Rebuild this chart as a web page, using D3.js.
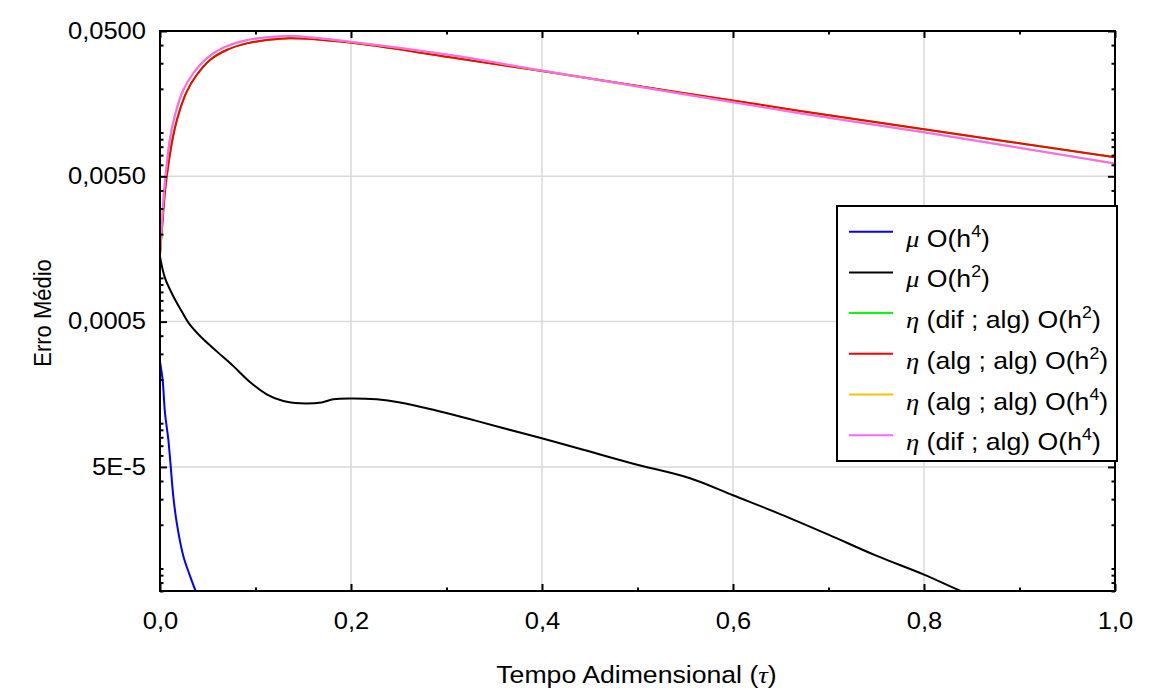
<!DOCTYPE html>
<html>
<head>
<meta charset="utf-8">
<script src="https://cdn.jsdelivr.net/npm/d3@7"></script>
<style>
  body { margin: 0; background: #fff; }
  svg { display: block; font-family: "Liberation Sans", Arial, sans-serif; }
</style>
</head>
<body>
<svg id="chart" width="1156" height="688"></svg>
<script>
// tau values and mean error
const tauBlue = [0, 0.0028, 0.0052, 0.0087, 0.0112, 0.0139, 0.0175, 0.0244, 0.0314, 0.0366, 0.040];
const muH4 = [2.65e-4, 1.97e-4, 1.18e-4, 7.73e-5, 5.06e-5, 3.15e-5, 2.07e-5, 1.22e-5, 8.9e-6, 7.2e-6, 6.5e-6];

const tauBlack = [0, 0.0052, 0.0139, 0.0227, 0.0307, 0.0419, 0.0594, 0.0768, 0.0942, 0.1117, 0.1291, 0.1466,
  0.1693, 0.1815, 0.199, 0.2269, 0.2513, 0.2862, 0.3211, 0.356, 0.3997, 0.4432, 0.4956, 0.555, 0.60,
  0.65, 0.70, 0.75, 0.80, 0.84, 0.86];
const muH2 = [1.40e-3, 9.99e-4, 7.47e-4, 5.89e-4, 4.82e-4, 3.98e-4, 3.12e-4, 2.47e-4, 1.92e-4, 1.58e-4, 1.42e-4, 1.37e-4,
  1.39e-4, 1.46e-4, 1.48e-4, 1.46e-4, 1.39e-4, 1.237e-4, 1.081e-4, 9.37e-5, 7.88e-5, 6.56e-5, 5.26e-5, 4.18e-5, 3.19e-5,
  2.36e-5, 1.71e-5, 1.225e-5, 9.07e-6, 6.93e-6, 6.2e-6];

const tauRed = [0, 0.0024, 0.0052, 0.0087, 0.0133, 0.0192, 0.028, 0.0384, 0.0524, 0.0698, 0.0908, 0.1117,
  0.136, 0.199, 0.3037, 0.4, 0.6702, 0.8, 1.0];
const etaDifAlgH2 = [1.45e-3, 2.32e-3, 3.93e-3, 5.99e-3, 9.14e-3, 1.322e-2, 1.912e-2, 2.49e-2, 3.16e-2, 3.70e-2, 4.11e-2, 4.33e-2,
  4.46e-2, 4.16e-2, 3.30e-2, 2.65e-2, 1.409e-2, 1.054e-2, 6.75e-3];
const etaAlgAlgH2 = [1.45e-3, 2.32e-3, 3.93e-3, 5.99e-3, 9.14e-3, 1.322e-2, 1.912e-2, 2.49e-2, 3.16e-2, 3.70e-2, 4.11e-2, 4.33e-2,
  4.46e-2, 4.16e-2, 3.30e-2, 2.65e-2, 1.409e-2, 1.054e-2, 6.75e-3];

const tauPink = [0, 0.0018, 0.0042, 0.007, 0.0105, 0.0157, 0.0244, 0.0349, 0.0489, 0.0663, 0.0872, 0.1082,
  0.136, 0.199, 0.3037, 0.4, 0.6702, 0.8, 1.0];
const etaAlgAlgH4 = [1.50e-3, 2.32e-3, 3.93e-3, 5.99e-3, 9.14e-3, 1.322e-2, 1.964e-2, 2.559e-2, 3.245e-2, 3.838e-2, 4.27e-2, 4.50e-2,
  4.62e-2, 4.22e-2, 3.42e-2, 2.67e-2, 1.358e-2, 1.005e-2, 6.13e-3];
const etaDifAlgH4 = [1.50e-3, 2.32e-3, 3.93e-3, 5.99e-3, 9.14e-3, 1.322e-2, 1.964e-2, 2.559e-2, 3.245e-2, 3.838e-2, 4.27e-2, 4.50e-2,
  4.62e-2, 4.22e-2, 3.42e-2, 2.67e-2, 1.358e-2, 1.005e-2, 6.13e-3];

const xTickValues = [0, 0.2, 0.4, 0.6, 0.8, 1.0];
const xTickLabels = ["0,0", "0,2", "0,4", "0,6", "0,8", "1,0"];
const xMinorTicks = [0.1, 0.3, 0.5, 0.7, 0.9];
const yTickValues = [5e-5, 5e-4, 5e-3, 5e-2];
const yTickLabels = ["5E-5", "0,0005", "0,0050", "0,0500"];

const series = [
  { sym: "\u03bc", name: " O(h", sup: "4", tail: ")", tau: tauBlue, val: muH4, color: "#0000ff" },
  { sym: "\u03bc", name: " O(h", sup: "2", tail: ")", tau: tauBlack, val: muH2, color: "#000000" },
  { sym: "\u03b7", name: " (dif ; alg) O(h", sup: "2", tail: ")", tau: tauRed, val: etaDifAlgH2, color: "#00ff00" },
  { sym: "\u03b7", name: " (alg ; alg) O(h", sup: "2", tail: ")", tau: tauRed, val: etaAlgAlgH2, color: "#ff0000" },
  { sym: "\u03b7", name: " (alg ; alg) O(h", sup: "4", tail: ")", tau: tauPink, val: etaAlgAlgH4, color: "#ffbf00" },
  { sym: "\u03b7", name: " (dif ; alg) O(h", sup: "4", tail: ")", tau: tauPink, val: etaDifAlgH4, color: "#ff66ff" }
];

const margin = { top: 31, right: 41, bottom: 97, left: 160 };
const width = 1156, height = 688;
const sx = 1.11; // text in the picture is a little wider than plain Arial
const fontSize = 23;
const svg = d3.select("#chart");

const x = d3.scaleLinear().domain([0, 1]).range([margin.left, width - margin.right]);
const y = d3.scaleLog().domain([7e-6, 0.05]).range([height - margin.bottom, margin.top]);

// minor log ticks 1..9 x 10^n
const yMinorTicks = [];
for (let e = -6; e <= -2; e++) {
  for (let k = 1; k <= 9; k++) {
    const v = k * Math.pow(10, e);
    if (k !== 5 && v >= 7e-6 && v <= 0.05) yMinorTicks.push(v);
  }
}

// grid
svg.append("g")
  .attr("stroke", "#d9d9d9")
  .attr("stroke-width", 1.5)
  .call((g) => g.selectAll("line.v").data(xTickValues.slice(1, -1)).join("line")
    .attr("class", "v")
    .attr("x1", (d) => x(d)).attr("x2", (d) => x(d))
    .attr("y1", y.range()[1]).attr("y2", y.range()[0]))
  .call((g) => g.selectAll("line.h").data(yTickValues.slice(0, -1)).join("line")
    .attr("class", "h")
    .attr("x1", x.range()[0]).attr("x2", x.range()[1])
    .attr("y1", (d) => y(d)).attr("y2", (d) => y(d)));

// curves
svg.append("clipPath").attr("id", "plot")
  .append("rect")
  .attr("x", x.range()[0]).attr("y", y.range()[1])
  .attr("width", x.range()[1] - x.range()[0])
  .attr("height", y.range()[0] - y.range()[1]);

const line = d3.line()
  .curve(d3.curveCatmullRom.alpha(0.5))
  .x((d) => x(d[0]))
  .y((d) => y(d[1]));

svg.append("g")
  .attr("clip-path", "url(#plot)")
  .selectAll("path")
  .data(series)
  .join("path")
  .attr("fill", "none")
  .attr("stroke", (d) => d.color)
  .attr("stroke-width", 2)
  .attr("stroke-linejoin", "round")
  .attr("d", (d) => line(d.tau.map((t, i) => [t, d.val[i]])));

// axes, ticks pointing inward
const styleAxis = (g) => {
  g.select(".domain").remove();
  g.selectAll(".tick line").attr("stroke", "#000").attr("stroke-width", 2);
  g.selectAll(".tick text").attr("fill", "#000").attr("font-size", fontSize)
    .attr("font-family", "Liberation Sans, Arial, sans-serif");
};

svg.append("g")
  .attr("transform", `translate(0,${y.range()[0]})`)
  .call(d3.axisBottom(x).tickValues(xTickValues).tickFormat((d, i) => xTickLabels[i])
    .tickSizeInner(-7).tickSizeOuter(0).tickPadding(22))
  .call(styleAxis)
  .call((g) => g.selectAll(".tick text").attr("transform", `scale(${sx},1)`));
svg.append("g")
  .attr("transform", `translate(0,${y.range()[0]})`)
  .call(d3.axisBottom(x).tickValues(xMinorTicks).tickFormat("").tickSizeInner(-3.5).tickSizeOuter(0))
  .call(styleAxis);
svg.append("g")
  .attr("transform", `translate(0,${y.range()[1]})`)
  .call(d3.axisTop(x).tickValues(xTickValues).tickFormat("").tickSizeInner(-7).tickSizeOuter(0))
  .call(styleAxis);
svg.append("g")
  .attr("transform", `translate(0,${y.range()[1]})`)
  .call(d3.axisTop(x).tickValues(xMinorTicks).tickFormat("").tickSizeInner(-3.5).tickSizeOuter(0))
  .call(styleAxis);

svg.append("g")
  .attr("transform", `translate(${x.range()[0]},0)`)
  .call(d3.axisLeft(y).tickValues(yTickValues).tickFormat((d, i) => yTickLabels[i])
    .tickSizeInner(-7).tickSizeOuter(0))
  .call(styleAxis)
  .call((g) => g.selectAll(".tick text").attr("x", 0).attr("transform", `translate(-14,0) scale(${sx},1)`));
svg.append("g")
  .attr("transform", `translate(${x.range()[0]},0)`)
  .call(d3.axisLeft(y).tickValues(yMinorTicks).tickFormat("").tickSizeInner(-3.5).tickSizeOuter(0))
  .call(styleAxis);
svg.append("g")
  .attr("transform", `translate(${x.range()[1]},0)`)
  .call(d3.axisRight(y).tickValues(yTickValues).tickFormat("").tickSizeInner(-7).tickSizeOuter(0))
  .call(styleAxis);
svg.append("g")
  .attr("transform", `translate(${x.range()[1]},0)`)
  .call(d3.axisRight(y).tickValues(yMinorTicks).tickFormat("").tickSizeInner(-3.5).tickSizeOuter(0))
  .call(styleAxis);

// frame
svg.append("rect")
  .attr("x", x.range()[0]).attr("y", y.range()[1])
  .attr("width", x.range()[1] - x.range()[0])
  .attr("height", y.range()[0] - y.range()[1])
  .attr("fill", "none").attr("stroke", "#000").attr("stroke-width", 2);

// axis titles
const xt = svg.append("text")
  .attr("transform", `translate(${(x.range()[0] + x.range()[1]) / 2 - 1},683) scale(${sx},1)`)
  .attr("text-anchor", "middle")
  .attr("font-size", 24);
xt.append("tspan").text("Tempo Adimensional (");
xt.append("tspan").attr("font-family", "Liberation Serif, serif").attr("font-style", "italic").text("\u03c4");
xt.append("tspan").text(")");

svg.append("text")
  .attr("transform", `translate(51,${(y.range()[0] + y.range()[1]) / 2 + 2}) scale(${sx},1) rotate(-90)`)
  .attr("text-anchor", "middle")
  .attr("font-size", 22)
  .text("Erro Médio");

// legend
const lg = svg.append("g").attr("transform", "translate(837,206)");
lg.append("rect")
  .attr("width", 280).attr("height", 255)
  .attr("fill", "#fff").attr("stroke", "#000").attr("stroke-width", 2);

const rows = lg.selectAll("g.row")
  .data(series)
  .join("g")
  .attr("class", "row")
  .attr("transform", (d, i) => `translate(0,${25.7 + i * 40.7})`);
rows.append("line")
  .attr("x1", 12).attr("x2", 56)
  .attr("stroke", (d) => d.color).attr("stroke-width", 2);
const lt = rows.append("text")
  .attr("transform", `translate(69,15) scale(${sx},1)`)
  .attr("font-size", 24);
lt.append("tspan").attr("font-family", "Liberation Serif, serif").attr("font-style", "italic")
  .text((d) => d.sym);
lt.append("tspan").text((d) => d.name);
lt.append("tspan").attr("font-size", 16).attr("dy", -10).text((d) => d.sup);
lt.append("tspan").attr("dy", 10).text((d) => d.tail);
</script>
</body>
</html>
